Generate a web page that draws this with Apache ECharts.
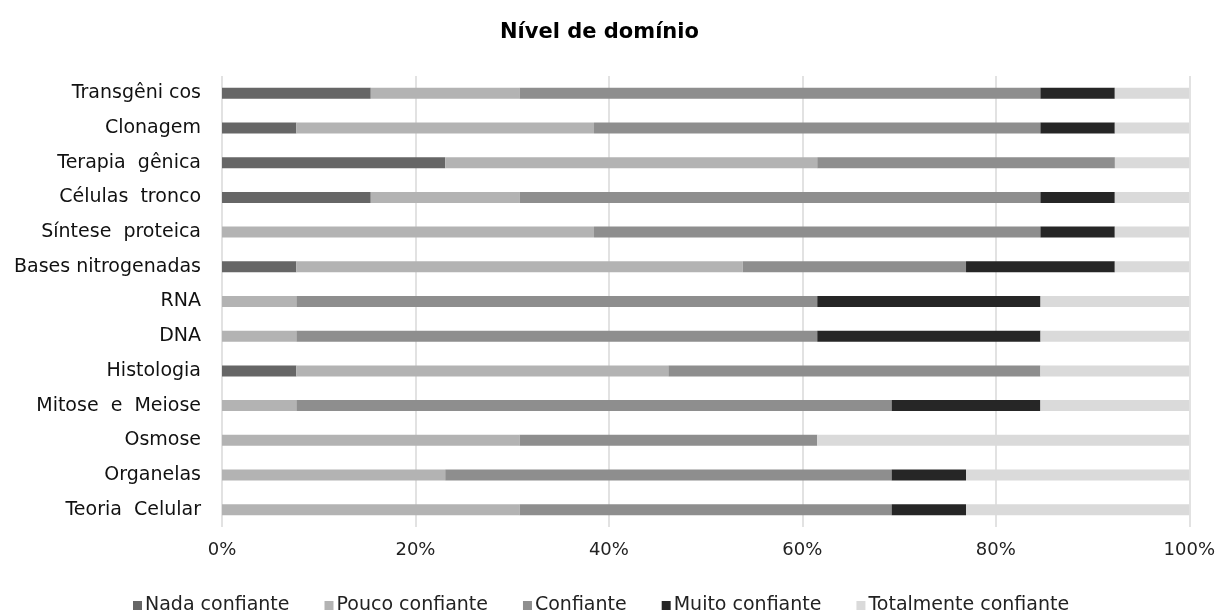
<!DOCTYPE html>
<html><head><meta charset="utf-8">
<script src="https://cdn.jsdelivr.net/npm/echarts@6/dist/echarts.min.js"></script>
<style>html,body{margin:0;padding:0;background:#fff}#c{width:1218px;height:615px}</style>
</head><body><div id="c"></div>
<script>
const categories = ['Transgêni cos','Clonagem','Terapia  gênica','Células  tronco','Síntese  proteica','Bases nitrogenadas','RNA','DNA','Histologia','Mitose  e  Meiose','Osmose','Organelas','Teoria  Celular'];
const seriesNames = ['Nada confiante','Pouco confiante','Confiante','Muito confiante','Totalmente confiante'];
const nada       = [15.38, 7.69, 23.08, 15.38, 0,     7.69,  0,    0,    7.69,  0,    0,     0,     0];
const pouco      = [15.38, 30.77,38.46, 15.38, 38.46, 46.15, 7.69, 7.69, 38.46, 7.69, 30.77, 23.08, 30.77];
const confiante  = [53.85, 46.15,30.77, 53.85, 46.15, 23.08, 53.85,53.85,38.46, 61.54,30.77, 46.15, 38.46];
const muito      = [7.69,  7.69, 0,     7.69,  7.69,  15.38, 23.08,23.08,0,     15.38,0,     7.69,  7.69];
const totalmente = [7.69,  7.69, 7.69,  7.69,  7.69,  7.69,  15.38,15.38,15.38, 15.38,38.46, 23.08, 23.08];
const xTicks = [0,20,40,60,80,100];
const colors = ['#666666','#b3b3b3','#8e8e8e','#262626','#dadada'];
const values = [nada,pouco,confiante,muito,totalmente];

const chart = echarts.init(document.getElementById('c'));
chart.setOption({
  animation:false,
  title:{text:'Nível de domínio',left:495,top:17,textStyle:{fontFamily:'DejaVu Sans',fontSize:21,fontWeight:'bold',color:'#000'}},
  grid:{left:222,right:28,top:76,bottom:88,containLabel:false},
  legend:{bottom:-5,left:128,itemWidth:9,itemHeight:9,itemGap:35,icon:'rect',
    textStyle:{fontFamily:'DejaVu Sans',fontSize:19,color:'#222',padding:[0,0,0,-2]},
    data:seriesNames},
  xAxis:{type:'value',min:0,max:100,interval:20,
    axisLabel:{formatter:v=>v+'%',fontFamily:'DejaVu Sans',fontSize:18,color:'#222',margin:14},
    splitLine:{lineStyle:{color:'#d9d9d9',width:1.5}},axisLine:{show:false},axisTick:{show:false}},
  yAxis:{type:'category',inverse:true,data:categories,
    axisLabel:{fontFamily:'DejaVu Sans',fontSize:19,color:'#111',margin:21},
    axisLine:{show:false},axisTick:{show:false}},
  series:seriesNames.map((n,i)=>({name:n,type:'bar',stack:'s',barWidth:11,data:values[i],itemStyle:{color:colors[i]}}))
});
</script></body></html>
